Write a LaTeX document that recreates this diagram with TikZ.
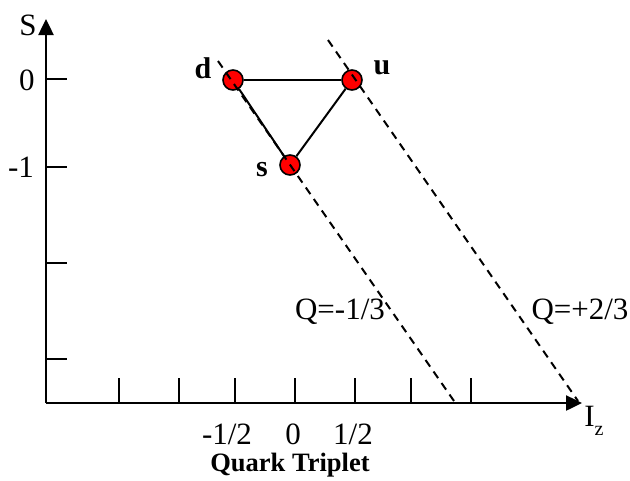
\documentclass[tikz,border=0pt]{standalone}
\usepackage{fontspec}
\setmainfont{Liberation Serif}
\usetikzlibrary{arrows.meta}
\begin{document}
\begin{tikzpicture}[x=1pt,y=-1pt,
  lbl/.style={inner sep=0pt,font=\fontsize{31}{34}\selectfont},
  qlbl/.style={inner sep=0pt,font=\fontsize{30}{33}\selectfont\bfseries},
  quark/.style={circle,draw=black,line width=1.6pt,fill=red,minimum size=20pt,inner sep=0pt},
  axis/.style={line width=2.5pt,-{Triangle[length=16pt,width=15pt]}},
  tick/.style={line width=2.2pt},
  qline/.style={line width=2pt,dash pattern=on 8pt off 6pt},
  edge/.style={line width=2pt}]
\useasboundingbox (0,0) rectangle (630,480);
% axes
\coordinate (O) at (46,403);
\coordinate (ytip) at (46,19);
\coordinate (xtip) at (582,403);
\draw[axis] (O) -- (ytip);
\draw[axis] (O) -- (xtip);
% y ticks
\foreach \y in {79,167,263,359}{
  \coordinate (yt\y) at (46,\y);
  \draw[tick] (yt\y) -- ++(21,0);
}
% x ticks
\foreach \x in {119,179,235,295,355,411,471}{
  \coordinate (xt\x) at (\x,403);
  \draw[tick] (xt\x) -- ++(0,-25);
}
% labels
\node[lbl] (lS) at (28,25) {S};
\node[lbl] (l0) at (27,80) {0};
\node[lbl] (lm1) at (21,167) {-1};
\node[lbl] (lmh) at (227,434) {-1/2};
\node[lbl] (lz) at (293,434) {0};
\node[lbl] (lph) at (353,434) {1/2};
\node[inner sep=0pt,font=\fontsize{26.5}{30}\selectfont\bfseries] (title) at (290,465) {Quark Triplet};
\node[lbl] (lIz) at (594,421) {I\raisebox{-0.28em}{\fontsize{20}{22}\selectfont z}};
% quarks
\node[quark] (d) at (233,80) {};
\node[quark] (u) at (352,80) {};
\node[quark] (s) at (290,165) {};
\node[qlbl] (ld) at (203,68) {d};
\node[qlbl] (lu) at (382,68) {u};
\node[qlbl] (ls) at (262,170) {s};
\draw[edge] (d) -- (u);
\draw[edge] (u) -- (s);
\draw[edge] (d) -- (s);
% charge lines
\coordinate (qa1) at (218,61);
\coordinate (qa2) at (454,401);
\coordinate (qb1) at (328,40);
\coordinate (qb2) at (578,401);
\draw[qline] (qa1) -- (qa2);
\draw[qline] (qb1) -- (qb2);
\node[lbl] (qm) at (340,312) {Q=-1/3};
\node[lbl] (qp) at (580,312) {Q=+2/3};
\end{tikzpicture}
\end{document}
